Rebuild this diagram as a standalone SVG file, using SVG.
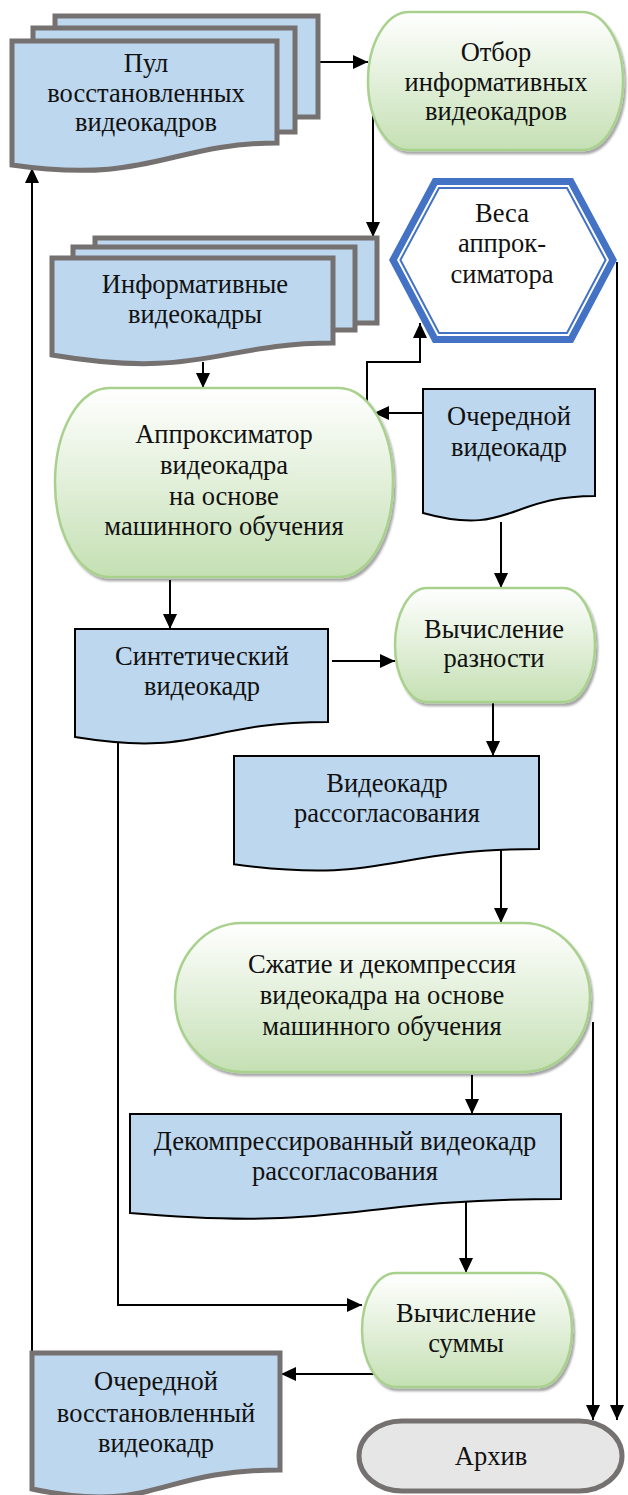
<svg xmlns="http://www.w3.org/2000/svg" width="628" height="1495" viewBox="0 0 628 1495">
<defs>
<linearGradient id="g" x1="0" y1="0" x2="0" y2="1"><stop offset="0" stop-color="#ffffff"/><stop offset="1" stop-color="#c5e0b4"/></linearGradient>
<filter id="sh" x="-10%" y="-10%" width="130%" height="130%"><feDropShadow dx="2" dy="3" stdDeviation="1.2" flood-color="#000" flood-opacity="0.35"/></filter>
<marker id="a" markerUnits="userSpaceOnUse" markerWidth="16" markerHeight="15" refX="15" refY="7" orient="auto"><path d="M0,0 L15,7 L0,14 z" fill="#000"/></marker>
</defs>
<style>
text{font-family:'Liberation Serif','DejaVu Serif',serif;font-size:26.5px;fill:#111;text-anchor:middle}
.term{fill:url(#g);stroke:#a9d18e;stroke-width:2.5;filter:url(#sh)}
.doc{fill:#bdd7ee;stroke:#000;stroke-width:2}
.gdoc{fill:#bdd7ee;stroke:#767171;stroke-width:5}
.c{fill:none;stroke:#000;stroke-width:2;marker-end:url(#a)}
</style>
<g id="connectors">
<path class="c" d="M318,62 H368"/>
<path class="c" d="M373,113 V237"/>
<path class="c" d="M203,362 V388"/>
<path class="c" d="M423,413 H374"/>
<path class="c" d="M367,402 V362 H420 V323"/>
<path class="c" d="M170,580 V629"/>
<path class="c" d="M332,661 H395"/>
<path class="c" d="M501,522 V588"/>
<path class="c" d="M493,702 V756"/>
<path class="c" d="M501,849 V923"/>
<path class="c" d="M472,1075 V1114"/>
<path class="c" d="M466,1199 V1273"/>
<path class="c" d="M118,742 V1305 H362"/>
<path class="c" d="M374,1374 H281"/>
<path class="c" d="M32,1353 V168"/>
<path class="c" d="M617,262 V1420"/>
<path class="c" d="M593,1022 V1420"/>
</g>
<g id="pool">
<rect x="55" y="16" width="263" height="101" class="gdoc"/>
<rect x="33" y="28" width="262" height="104" class="gdoc"/>
<path class="gdoc" d="M12,41 H277 V143 C170,143 150,185 12,165 Z"/>
<text x="146" y="72">Пул</text>
<text x="146" y="102">восстановленных</text>
<text x="146" y="131">видеокадров</text>
</g>
<g id="select">
<rect class="term" x="368" y="12" width="255" height="138" rx="41" ry="69"/>
<text x="496" y="61">Отбор</text>
<text x="496" y="91">информативных</text>
<text x="496" y="120">видеокадров</text>
</g>
<g id="informative">
<rect x="95" y="238" width="282" height="85" class="gdoc"/>
<rect x="73" y="247" width="282" height="83" class="gdoc"/>
<path class="gdoc" d="M52,258 H333 V343 C220,343 200,380 52,355 Z"/>
<text x="195" y="293">Информативные</text>
<text x="195" y="323">видеокадры</text>
</g>
<g id="weights">
<polygon points="393,260 435.1,181.5 570.9,181.5 613,260 570.9,339.5 435.1,339.5" fill="#fff" stroke="#4472c4" stroke-width="7"/>
<polygon points="400.4,260 439,188 567,188 605.6,260 567,333 439,333" fill="none" stroke="#4472c4" stroke-width="2"/>
<text x="502" y="222">Веса</text>
<text x="502" y="252">аппрок-</text>
<text x="502" y="283">симатора</text>
</g>
<g id="approximator">
<rect class="term" x="55" y="388" width="338" height="189" rx="54" ry="94.5"/>
<text x="224" y="443">Аппроксиматор</text>
<text x="224" y="474">видеокадра</text>
<text x="224" y="505">на основе</text>
<text x="224" y="535">машинного обучения</text>
</g>
<g id="next-frame">
<path class="doc" d="M423,389 H595 V496 C509,496 509,537 423,513 Z"/>
<text x="509" y="425">Очередной</text>
<text x="509" y="456">видеокадр</text>
</g>
<g id="difference">
<rect class="term" x="395" y="588" width="200" height="114" rx="32" ry="57"/>
<text x="494" y="638">Вычисление</text>
<text x="494" y="667">разности</text>
</g>
<g id="synthetic">
<path class="doc" d="M75,629 H328 V722 C201.5,722 201.5,757.6 75,737 Z"/>
<text x="202" y="665">Синтетический</text>
<text x="202" y="695">видеокадр</text>
</g>
<g id="mismatch">
<path class="doc" d="M234,756 H539 V849 C386.5,849 386.5,884.6 234,864.3 Z"/>
<text x="387" y="792">Видеокадр</text>
<text x="387" y="822">рассогласования</text>
</g>
<g id="compress">
<rect class="term" x="175" y="923" width="415" height="149" rx="67" ry="74.5"/>
<text x="382" y="973">Сжатие и декомпрессия</text>
<text x="382" y="1004">видеокадра на основе</text>
<text x="382" y="1035">машинного обучения</text>
</g>
<g id="decompressed">
<path class="doc" d="M130,1114 H561 V1199 C345.5,1199 345.5,1231.6 130,1213 Z"/>
<text x="345" y="1150">Декомпрессированный видеокадр</text>
<text x="345" y="1180">рассогласования</text>
</g>
<g id="sum">
<rect class="term" x="362" y="1273" width="210" height="114" rx="34" ry="57"/>
<text x="466" y="1322">Вычисление</text>
<text x="466" y="1352">суммы</text>
</g>
<g id="restored">
<path class="gdoc" d="M32,1353 H280 V1470 C156,1470 156,1515 32,1489 Z"/>
<text x="156" y="1390">Очередной</text>
<text x="156" y="1422">восстановленный</text>
<text x="156" y="1452">видеокадр</text>
</g>
<g id="archive">
<rect x="359" y="1421" width="263" height="70" rx="43" ry="35" fill="#e7e6e6" stroke="#767171" stroke-width="5"/>
<text x="491" y="1465">Архив</text>
</g>
</svg>
